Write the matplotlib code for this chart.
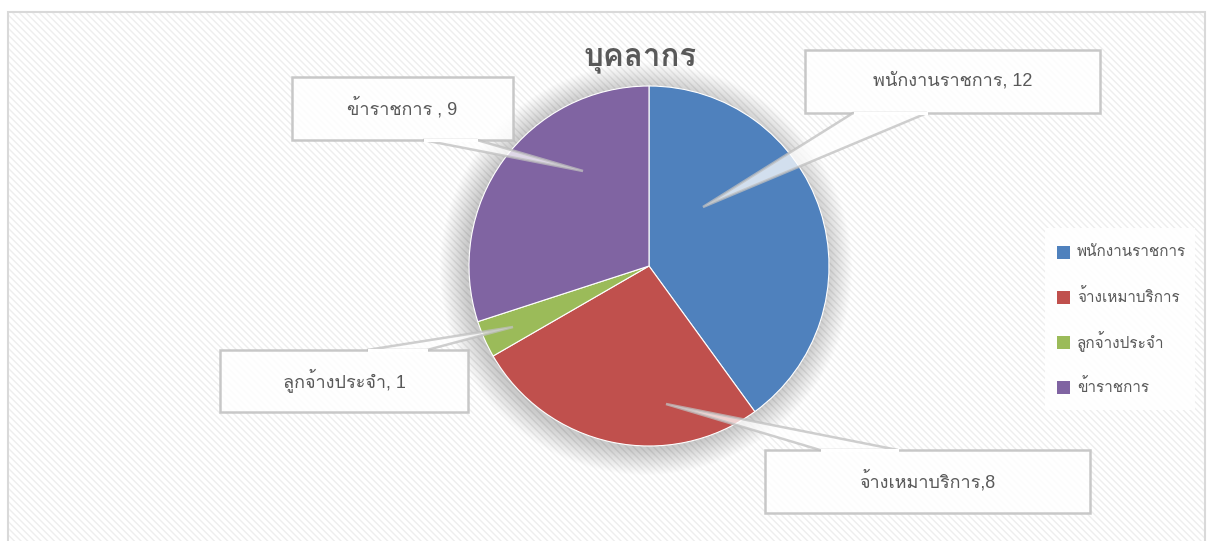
import matplotlib
matplotlib.use("Agg")
import matplotlib.pyplot as plt
from matplotlib.patches import Rectangle, Circle, Polygon

# data
labels = ["พนักงานราชการ", "จ้างเหมาบริการ", "ลูกจ้างประจำ", "ข้าราชการ"]
values = [12, 8, 1, 9]
callout_texts = ["พนักงานราชการ, 12", "จ้างเหมาบริการ,8", "ลูกจ้างประจำ, 1", "ข้าราชการ , 9"]
colors = ["#4F81BD", "#C0504D", "#9BBB59", "#8064A2"]
title = "บุคลากร"

# Liberation Sans for latin/digits, Loma for Thai glyphs
plt.rcParams["font.family"] = ["Liberation Sans", "Loma", "DejaVu Sans"]
plt.rcParams["hatch.linewidth"] = 1.0

W, H = 1207, 541
fig = plt.figure(figsize=(W / 100, H / 100), dpi=100)
ax = fig.add_axes([0, 0, 1, 1])


def py(y):
    # pixel row (from top) to axis y
    return H - y


# frame + hatched background
ax.add_patch(Rectangle((8, py(546)), 1197, 534, facecolor="white",
                       edgecolor="#d9d9d9", lw=1.5, zorder=0))
ax.add_patch(Rectangle((9, py(545)), 1195, 532, facecolor="none",
                       edgecolor="#eeeeee", lw=0, hatch="\\" * 5, zorder=0.5))

cx, cy, r = 649, py(266), 180

# soft shadow around the pie
for k in range(26, 0, -1):
    ax.add_patch(Circle((cx - 3, cy - 3), r + k, facecolor="black",
                        edgecolor="none", alpha=0.0065, zorder=1))

wedges, _ = ax.pie(values, colors=colors, startangle=90, counterclock=False,
                   center=(cx, cy), radius=r, frame=True,
                   wedgeprops=dict(edgecolor="white", linewidth=0.8))
for w in wedges:
    w.set_zorder(2)

ax.set_xlim(0, W)
ax.set_ylim(0, H)
ax.set_aspect("auto")
ax.axis("off")

ax.text(640, py(58), title, ha="center", va="center", fontsize=22.5,
        fontweight="bold", color="#595959", zorder=5)

# callouts: box (x0, y0, x1, y1), pointer base on an edge, tip
boxes = [(805, 50, 1100, 113), (765, 450, 1090, 513),
         (220, 350, 468, 412), (292, 77, 513, 140)]
bases = [((853, 113), (927, 113)), ((820, 450), (898, 450)),
         ((367, 350), (427, 350)), ((423, 140), (477, 140))]
tips = [(703, 207), (666, 404), (513, 327), (583, 171)]

for (x0, y0, x1, y1), (b1, b2), tip, txt in zip(boxes, bases, tips, callout_texts):
    ax.add_patch(Rectangle((x0, py(y1)), x1 - x0, y1 - y0, facecolor="white",
                           edgecolor="#bfbfbf", lw=1.8, alpha=0.85, zorder=3))
    ax.add_patch(Polygon([(b1[0], py(b1[1])), (tip[0], py(tip[1])), (b2[0], py(b2[1]))],
                         closed=True, facecolor="white", edgecolor="#bfbfbf",
                         lw=1.8, alpha=0.75, zorder=3))
    # hide the box edge under the pointer base
    ax.plot([b1[0] + 1.5, b2[0] - 1.5], [py(b1[1]), py(b2[1])], color="white",
            lw=2.2, zorder=3.5)
    ax.text((x0 + x1) / 2, py((y0 + y1) / 2 - 1), txt, ha="center", va="center",
            fontsize=13, color="#595959", zorder=4)

# legend
ax.add_patch(Rectangle((1045, py(410)), 150, 182, facecolor="white",
                       edgecolor="none", alpha=0.9, zorder=3))
for i, (lab, c) in enumerate(zip(labels, colors)):
    yy = 252 + 45 * i
    ax.add_patch(Rectangle((1057, py(yy + 7)), 13, 13, facecolor=c,
                           edgecolor="none", zorder=4))
    ax.text(1077, py(yy), lab, ha="left", va="center", fontsize=11,
            color="#595959", zorder=4)

fig.savefig("out.png", dpi=100)
